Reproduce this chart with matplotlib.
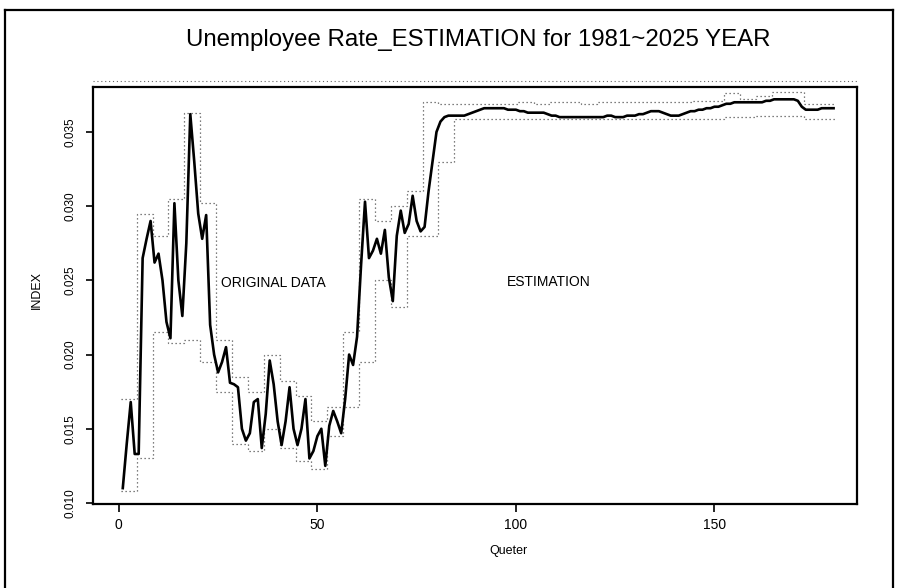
import numpy as np
import matplotlib
matplotlib.use("Agg")
import matplotlib.pyplot as plt

# ---- data -------------------------------------------------------------
# quarterly index, 1981Q1-2000Q4 (observed)
original = [
    0.0110, 0.0140, 0.0168, 0.0133, 0.0133, 0.0265, 0.0278, 0.0290,
    0.0262, 0.0268, 0.0250, 0.0222, 0.0211, 0.0302, 0.0250, 0.0226,
    0.0275, 0.0362, 0.0330, 0.0295, 0.0278, 0.0294, 0.0220, 0.0200,
    0.0188, 0.0195, 0.0205, 0.0181, 0.0180, 0.0178, 0.0150, 0.0142,
    0.0147, 0.0168, 0.0170, 0.0137, 0.0160, 0.0196, 0.0180, 0.0155,
    0.0139, 0.0155, 0.0178, 0.0150, 0.0139, 0.0150, 0.0170, 0.0130,
    0.0135, 0.0145, 0.0150, 0.0125, 0.0152, 0.0162, 0.0155, 0.0147,
    0.0170, 0.0200, 0.0193, 0.0212, 0.0260, 0.0303, 0.0265, 0.0270,
    0.0278, 0.0268, 0.0284, 0.0252, 0.0236, 0.0280, 0.0297, 0.0282,
    0.0288, 0.0307, 0.0290, 0.0283, 0.0286, 0.0310, 0.0330, 0.0350,
]
# quarterly estimate, 2001Q1-2025Q4
estimation = [
    0.0357, 0.0360, 0.0361, 0.0361, 0.0361, 0.0361, 0.0361, 0.0362,
    0.0363, 0.0364, 0.0365, 0.0366, 0.0366, 0.0366, 0.0366, 0.0366,
    0.0366, 0.0365, 0.0365, 0.0365, 0.0364, 0.0364, 0.0363, 0.0363,
    0.0363, 0.0363, 0.0363, 0.0362, 0.0361, 0.0361, 0.0360, 0.0360,
    0.0360, 0.0360, 0.0360, 0.0360, 0.0360, 0.0360, 0.0360, 0.0360,
    0.0360, 0.0360, 0.0361, 0.0361, 0.0360, 0.0360, 0.0360, 0.0361,
    0.0361, 0.0361, 0.0362, 0.0362, 0.0363, 0.0364, 0.0364, 0.0364,
    0.0363, 0.0362, 0.0361, 0.0361, 0.0361, 0.0362, 0.0363, 0.0364,
    0.0364, 0.0365, 0.0365, 0.0366, 0.0366, 0.0367, 0.0367, 0.0368,
    0.0369, 0.0369, 0.0370, 0.0370, 0.0370, 0.0370, 0.0370, 0.0370,
    0.0370, 0.0370, 0.0371, 0.0371, 0.0372, 0.0372, 0.0372, 0.0372,
    0.0372, 0.0372, 0.0371, 0.0367, 0.0365, 0.0365, 0.0365, 0.0365,
    0.0366, 0.0366, 0.0366, 0.0366,
]
# yearly bounds (45 years)
band_upper = [
    0.0170, 0.0295, 0.0280, 0.0305, 0.0363, 0.0302, 0.0210, 0.0185,
    0.0175, 0.0200, 0.0182, 0.0172, 0.0155, 0.0165, 0.0215, 0.0305,
    0.0290, 0.0300, 0.0310, 0.0370, 0.0369, 0.0369, 0.0369, 0.0369,
    0.0369, 0.0370, 0.0369, 0.0370, 0.0370, 0.0369, 0.0370, 0.0370,
    0.0370, 0.0370, 0.0370, 0.0370, 0.0371, 0.0371, 0.0376, 0.0372,
    0.0374, 0.0377, 0.0377, 0.0369, 0.0369,
]
band_lower = [
    0.0108, 0.0130, 0.0215, 0.0208, 0.0210, 0.0195, 0.0175, 0.0140,
    0.0135, 0.0150, 0.0137, 0.0128, 0.0123, 0.0145, 0.0165, 0.0195,
    0.0250, 0.0232, 0.0280, 0.0280, 0.0330, 0.0359, 0.0359, 0.0359,
    0.0359, 0.0359, 0.0359, 0.0359, 0.0359, 0.0359, 0.0359, 0.0359,
    0.0359, 0.0359, 0.0359, 0.0359, 0.0359, 0.0359, 0.0360, 0.0360,
    0.0361, 0.0361, 0.0361, 0.0359, 0.0359,
]
x_ticks = [0, 50, 100, 150]
y_ticks = [0.010, 0.015, 0.020, 0.025, 0.030, 0.035]

title = "Unemployee Rate_ESTIMATION for 1981~2025 YEAR"
x_label = "Queter"
y_label = "INDEX"

# ---- figure -----------------------------------------------------------
W, H, DPI = 897, 588, 100
plt.rcParams["font.family"] = ["Liberation Sans", "DejaVu Sans"]

fig = plt.figure(figsize=(W / DPI, H / DPI), dpi=DPI)
fig.patch.set_facecolor("white")

def fx(px):
    return px / W

def fy(py):
    return 1 - py / H

ax = fig.add_axes([fx(93), fy(504), fx(857) - fx(93), fy(87) - fy(504)])

series = np.array(original + estimation)
quarters = np.arange(1, len(series) + 1)

edges = np.arange(len(band_upper) + 1) * 4 + 0.5
ax.stairs(band_upper, edges, baseline=None, color="#555555", lw=0.9,
          linestyle=(0, (1, 2.2)))
ax.stairs(band_lower, edges, baseline=None, color="#555555", lw=0.9,
          linestyle=(0, (1, 2.2)))
ax.plot(quarters, series, color="black", lw=1.9, solid_joinstyle="round")

ax.set_xlim(-6.5, 185.9)
ax.set_ylim(0.00993, 0.03803)
ax.set_xticks(x_ticks)
ax.set_yticks(y_ticks)
ax.set_xticklabels([str(v) for v in x_ticks])
ax.set_yticklabels([f"{v:.3f}" for v in y_ticks], rotation=90, va="center")
ax.tick_params(axis="x", direction="out", length=6, width=1.2, pad=4,
               labelsize=10)
ax.tick_params(axis="y", direction="out", length=5, width=1.2, pad=7,
               labelsize=8.5)
for s in ax.spines.values():
    s.set_linewidth(1.6)

fig.text(fx(273), fy(283), "ORIGINAL DATA", fontsize=10,
         ha="center", va="center")
fig.text(fx(549), fy(282), "ESTIMATION", fontsize=10,
         ha="center", va="center")

fig.text(fx(478), fy(40), title, fontsize=17.3, ha="center", va="center")
fig.text(fx(37), fy(290), y_label, fontsize=9, rotation=90,
         ha="center", va="center")
fig.text(fx(508), fy(551), x_label, fontsize=9, ha="center", va="center")

# dotted rule along the top of the plotting box
fig.add_artist(plt.Line2D([fx(93), fx(857)], [fy(81), fy(81)],
                          color="#666666", lw=0.8, linestyle=(0, (1, 2.5))))

# page frame
fig.add_artist(plt.Line2D([fx(5), fx(5)], [fy(588), fy(10)], color="black", lw=1.6))
fig.add_artist(plt.Line2D([fx(5), fx(893)], [fy(10), fy(10)], color="black", lw=1.6))
fig.add_artist(plt.Line2D([fx(893), fx(893)], [fy(10), fy(588)], color="black", lw=1.6))

fig.savefig("out.png", dpi=DPI)
